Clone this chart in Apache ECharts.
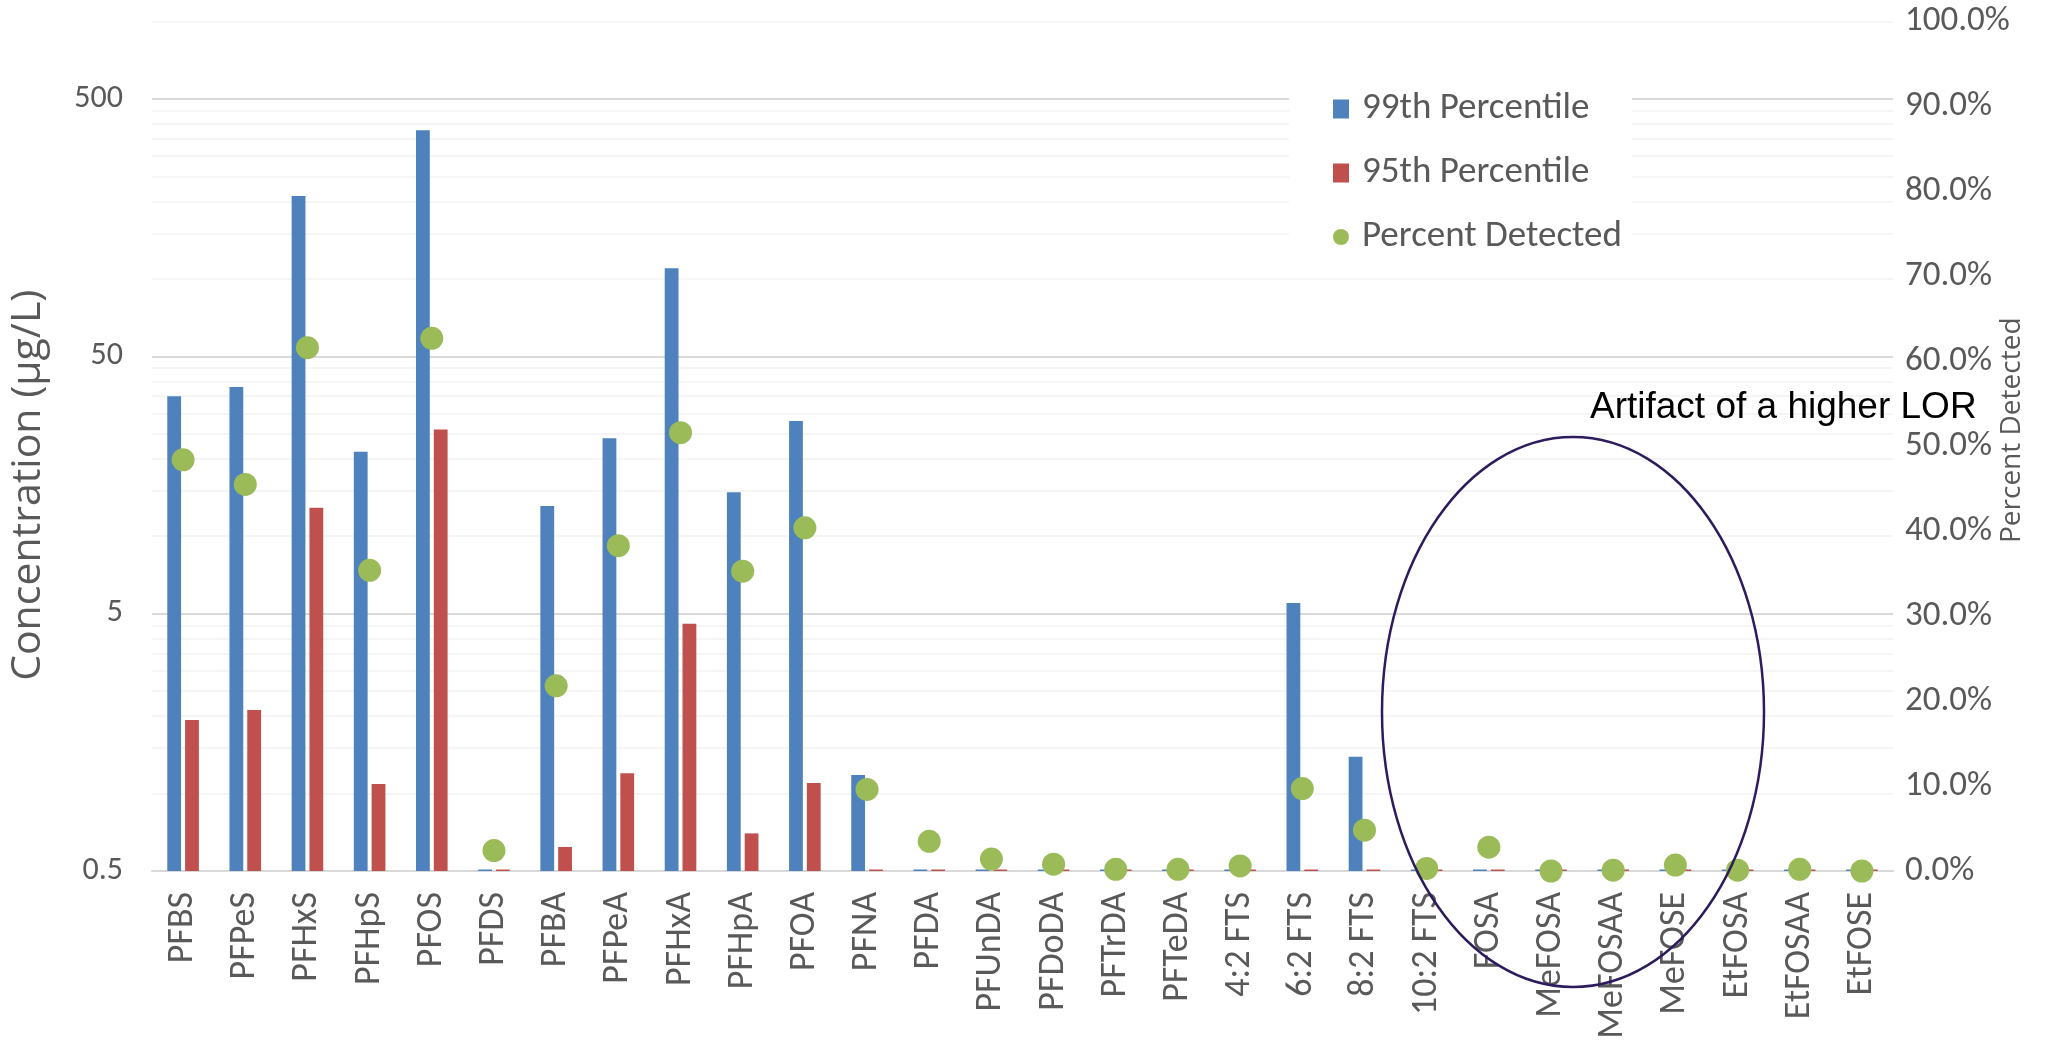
<!DOCTYPE html>
<html>
<head>
<meta charset="utf-8">
<script src="https://cdn.jsdelivr.net/npm/echarts@6/dist/echarts.min.js"></script>
<style>
  html, body { margin: 0; padding: 0; background: #ffffff; }
  #chart { width: 2070px; height: 1049px; }
</style>
</head>
<body>
<div id="chart"></div>
<script>
// PFAS compounds on the category axis
const categories = ['PFBS', 'PFPeS', 'PFHxS', 'PFHpS', 'PFOS', 'PFDS', 'PFBA', 'PFPeA', 'PFHxA', 'PFHpA',
  'PFOA', 'PFNA', 'PFDA', 'PFUnDA', 'PFDoDA', 'PFTrDA', 'PFTeDA', '4:2 FTS', '6:2 FTS', '8:2 FTS',
  '10:2 FTS', 'FOSA', 'MeFOSA', 'MeFOSAA', 'MeFOSE', 'EtFOSA', 'EtFOSAA', 'EtFOSE'];

// 99th percentile concentration (µg/L)
const p99 = [35, 38, 210, 21.3, 378, 0.5, 13.1, 24, 110, 14.8,
  28, 1.18, 0.5, 0.5, 0.5, 0.5, 0.5, 0.5, 5.5, 1.39,
  0.5, 0.5, 0.5, 0.5, 0.5, 0.5, 0.5, 0.5];

// 95th percentile concentration (µg/L)
const p95 = [1.93, 2.11, 12.9, 1.09, 26, 0.5, 0.62, 1.2, 4.57, 0.7,
  1.1, 0.5, 0.5, 0.5, 0.5, 0.5, 0.5, 0.5, 0.5, 0.5,
  0.5, 0.5, 0.5, 0.5, 0.5, 0.5, 0.5, 0.5];

// share of samples with a detection (%)
const percentDetected = [48.4, 45.5, 61.6, 35.4, 62.7, 2.4, 21.8, 38.3, 51.6, 35.3,
  40.4, 9.6, 3.5, 1.4, 0.8, 0.2, 0.2, 0.6, 9.7, 4.8,
  0.3, 2.8, 0.0, 0.1, 0.7, 0.1, 0.2, 0.0];

// concentration axis: labelled decades and the linear minor steps inside each decade
const concentrationTicks = [0.5, 5, 50, 500];
const concentrationMinor = [1, 1.5, 2, 2.5, 3, 3.5, 4, 4.5,
  10, 15, 20, 25, 30, 35, 40, 45,
  100, 150, 200, 250, 300, 350, 400, 450, 1000];

const TEXT = '#595959';
const FONT = 'Carlito, Calibri, Lato';
const chart = echarts.init(document.getElementById('chart'), null, { renderer: 'canvas' });

const gridLines = concentrationTicks.map(v => ({ yAxis: v, lineStyle: { color: '#D9D9D9', width: 2, type: 'solid' } }))
  .concat(concentrationMinor.map(v => ({ yAxis: v, lineStyle: { color: '#F2F2F2', width: 1.5, type: 'solid' } })));

chart.setOption({
  backgroundColor: '#ffffff',
  animation: false,
  grid: { left: 151, right: 177, top: 21.5, bottom: 178, containLabel: false },
  legend: {
    orient: 'vertical',
    left: 1289,
    top: 76,
    backgroundColor: '#ffffff',
    padding: [14, 10, 14, 44],
    itemWidth: 16,
    itemHeight: 19,
    itemGap: 26,
    textStyle: { fontFamily: FONT, fontSize: 37, color: TEXT, lineHeight: 38, padding: [0, 0, 0, 8] },
    data: [
      { name: '99th Percentile', icon: 'rect' },
      { name: '95th Percentile', icon: 'rect' },
      { name: 'Percent Detected', icon: 'circle' }
    ]
  },
  xAxis: {
    type: 'category',
    data: categories,
    boundaryGap: true,
    axisLine: { show: true, lineStyle: { color: '#D9D9D9', width: 2 } },
    axisTick: { show: false },
    axisLabel: { interval: 0, rotate: 90, margin: 21, fontFamily: FONT, fontSize: 36, color: TEXT }
  },
  yAxis: [
    {
      type: 'log',
      logBase: 10,
      min: 0.5,
      max: 1000,
      interval: 1,
      startValue: 0.5,
      name: 'Concentration (µg/L)',
      nameLocation: 'middle',
      nameRotate: 90,
      nameGap: 103,
      nameMoveOverlap: false,
      nameTextStyle: { fontFamily: 'Open Sans', fontSize: 41, color: TEXT, padding: [0, 78, 0, 0] },
      axisLine: { show: false },
      axisTick: { show: false },
      splitLine: { show: false },
      axisLabel: {
        margin: 29,
        fontFamily: FONT, fontSize: 32, color: TEXT,
        formatter: v => (v > 999 ? '' : String(Number(Number(v).toPrecision(1))))
      }
    },
    {
      type: 'value',
      min: 0,
      max: 100,
      interval: 10,
      name: 'Percent Detected',
      nameLocation: 'middle',
      nameRotate: 90,
      nameGap: 105,
      nameMoveOverlap: false,
      nameTextStyle: { fontFamily: 'Open Sans', fontSize: 28, color: TEXT, padding: [0, 0, 0, 32] },
      axisLine: { show: false },
      axisTick: { show: false },
      splitLine: { show: false },
      axisLabel: {
        margin: 12,
        fontFamily: FONT, fontSize: 35, color: TEXT,
        formatter: v => v.toFixed(1) + '%'
      }
    }
  ],
  series: [
    {
      name: 'gridlines',
      type: 'line',
      yAxisIndex: 0,
      data: [],
      silent: true,
      markLine: {
        silent: true,
        z: 1,
        symbol: ['none', 'none'],
        label: { show: false },
        lineStyle: { type: 'solid' },
        emphasis: { disabled: true },
        animation: false,
        data: gridLines
      }
    },
    {
      name: '99th Percentile',
      type: 'bar',
      yAxisIndex: 0,
      data: p99,
      barWidth: 13.8,
      barGap: '29%',
      barMinHeight: 1.5,
      itemStyle: { color: '#4F81BD' },
      z: 2
    },
    {
      name: '95th Percentile',
      type: 'bar',
      yAxisIndex: 0,
      data: p95,
      barWidth: 13.8,
      barGap: '29%',
      barMinHeight: 1.5,
      itemStyle: { color: '#C0504D' },
      z: 2
    },
    {
      name: 'Percent Detected',
      type: 'scatter',
      yAxisIndex: 1,
      data: percentDetected,
      symbol: 'circle',
      symbolSize: 23,
      itemStyle: { color: '#9BBB59', opacity: 1 },
      z: 3
    }
  ],
  graphic: [
    {
      type: 'ellipse',
      silent: true,
      z: 20,
      shape: { cx: 1573, cy: 712, rx: 191, ry: 275 },
      style: { fill: 'none', stroke: '#2D1B5E', lineWidth: 2.5 }
    },
    {
      type: 'text',
      silent: true,
      z: 20,
      left: 1590,
      top: 389,
      style: { text: 'Artifact of a higher LOR', fontFamily: 'Liberation Sans', fontSize: 37, fill: '#000000' }
    }
  ]
});
</script>
</body>
</html>
